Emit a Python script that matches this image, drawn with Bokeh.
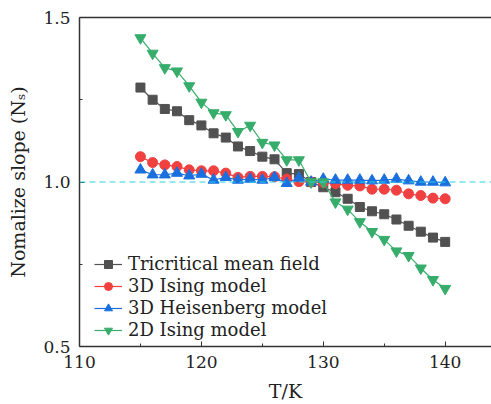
from bokeh.plotting import figure
from bokeh.models import (FixedTicker, PrintfTickFormatter, Span, Legend, LegendItem,
                          LinearAxis, Range1d)
from bokeh.embed import file_html
from bokeh.resources import INLINE

T = list(range(115, 141))
tricritical = [1.287, 1.250, 1.222, 1.215, 1.188, 1.172, 1.148, 1.135, 1.108, 1.094,
               1.077, 1.069, 1.027, 1.024, 1.000, 0.984, 0.969, 0.949, 0.924, 0.911,
               0.902, 0.886, 0.867, 0.849, 0.831, 0.818]
ising3d = [1.077, 1.059, 1.052, 1.047, 1.037, 1.034, 1.034, 1.027, 1.014, 1.017,
           1.017, 1.016, 1.009, 1.001, 1.000, 0.998, 0.995, 0.990, 0.988, 0.978,
           0.978, 0.975, 0.964, 0.959, 0.951, 0.949]
heisenberg3d = [1.037, 1.022, 1.022, 1.027, 1.019, 1.024, 1.006, 1.014, 1.006, 1.009,
                1.006, 1.014, 0.996, 1.012, 1.000, 1.009, 1.006, 1.006, 1.006, 1.004,
                1.006, 1.009, 1.004, 1.000, 1.000, 0.998]
ising2d = [1.438, 1.391, 1.347, 1.337, 1.292, 1.242, 1.210, 1.204, 1.153, 1.172,
           1.120, 1.112, 1.067, 1.067, 1.000, 1.000, 0.939, 0.917, 0.879, 0.849,
           0.825, 0.790, 0.776, 0.738, 0.703, 0.676]

names = ["Tricritical mean field", "3D Ising model", "3D Heisenberg model", "2D Ising model"]
colors = ["#515151", "#F14040", "#1A6FDF", "#37AD6B"]
markers = ["square", "circle", "triangle", "inverted_triangle"]
sizes = [9, 10, 11, 11]
series = [tricritical, ising3d, heisenberg3d, ising2d]

x_ticks = [110, 120, 130, 140]
x_minor = [115, 125, 135]
y_ticks = [0.5, 1.0, 1.5]
y_minor = [0.75, 1.25]

FONT = "DejaVu Serif"

p = figure(width=491, height=404, output_backend="svg", toolbar_location=None,
           x_range=Range1d(110, 143.8), y_range=Range1d(0.5, 1.5),
           min_border_left=79, min_border_right=0, min_border_top=17, min_border_bottom=55)
p.outline_line_color = None
p.grid.visible = False
p.background_fill_color = "white"
p.border_fill_color = "white"

# dashed reference line
p.add_layout(Span(location=1.0, dimension="width", line_color="#2ad4e4",
                  line_dash="6 4", line_width=1.2))

items = []
for name, col, mk, sz, ys in zip(names, colors, markers, sizes, series):
    l = p.line(T, ys, line_color=col, line_width=1.2)
    s = p.scatter(T, ys, marker=mk, size=sz, fill_color=col, line_color=col)
    items.append(LegendItem(label=name, renderers=[l, s]))

legend = Legend(items=items, location=(15, 6), background_fill_alpha=0,
                border_line_color=None, padding=5, spacing=1, glyph_width=28,
                glyph_height=20, label_height=20, label_standoff=6,
                label_text_font=FONT, label_text_font_size="18px",
                label_text_color="#222222", margin=0)
p.add_layout(legend)

for ax in [p.xaxis[0], p.yaxis[0]]:
    ax.major_tick_in = 5
    ax.major_tick_out = 0
    ax.minor_tick_in = 3
    ax.minor_tick_out = 0
    ax.axis_line_color = "#333333"
    ax.axis_line_width = 1.5
    ax.major_tick_line_color = "#333333"
    ax.minor_tick_line_color = "#333333"
    ax.major_label_text_font = FONT
    ax.major_label_text_font_size = "17px"
    ax.major_label_text_color = "#222222"
    ax.axis_label_text_font = FONT
    ax.axis_label_text_font_size = "19px"
    ax.axis_label_text_font_style = "normal"
    ax.axis_label_text_color = "#222222"

p.xaxis[0].ticker = FixedTicker(ticks=x_ticks, minor_ticks=x_minor)
p.yaxis[0].ticker = FixedTicker(ticks=y_ticks, minor_ticks=y_minor)
p.yaxis[0].formatter = PrintfTickFormatter(format="%.1f")
p.xaxis[0].major_label_standoff = 9
p.yaxis[0].major_label_standoff = 9
p.xaxis[0].axis_label = "T/K"
p.yaxis[0].axis_label = "Nomalize slope (Nₛ)"
p.xaxis[0].axis_label_standoff = 9
p.yaxis[0].axis_label_standoff = 11

top = LinearAxis(ticker=FixedTicker(ticks=[]), major_label_text_font_size="0px",
                 axis_line_color="#333333", axis_line_width=1.5,
                 major_tick_line_color=None, minor_tick_line_color=None)
p.add_layout(top, "above")

open("out.html", "w").write(file_html(p, INLINE))
